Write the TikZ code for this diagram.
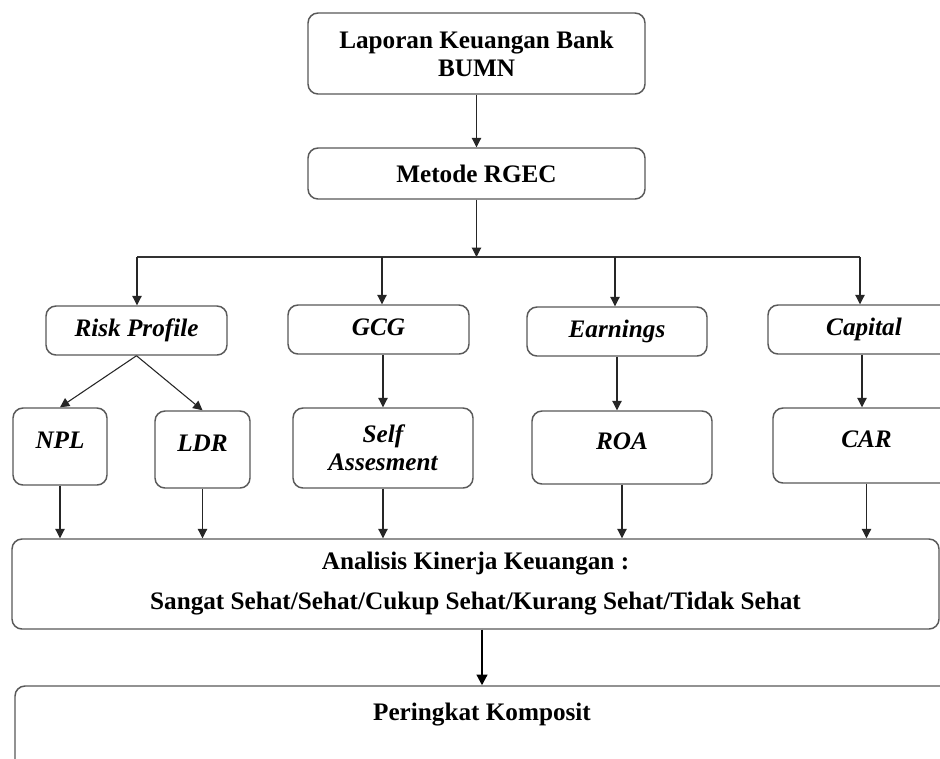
\documentclass[tikz,border=0pt]{standalone}
\usepackage{fontspec}
\setmainfont{Liberation Serif}
\usetikzlibrary{arrows.meta,calc}
\tikzset{
  box/.style={draw=black!65, line width=1.1pt, rounded corners=7.5pt, inner sep=0pt, align=center,
    font=\fontsize{18.9}{21}\selectfont\bfseries},
  ibox/.style={box, font=\fontsize{18.9}{21}\selectfont\bfseries\itshape},
  onebox/.style={ibox, text height=13pt, text depth=4pt},
  arr/.style={draw=black!85, line width=0.8pt, -{Triangle[length=7pt,width=7pt]}},
  thickarr/.style={draw=black, line width=1.6pt, -{Triangle[length=8pt,width=8pt]}},
  lbl/.style={inner sep=0pt, font=\fontsize{18.9}{21}\selectfont\bfseries}
}
\begin{document}
\begin{tikzpicture}[x=0.75pt,y=-0.75pt]
\useasboundingbox (0,0) rectangle (940,758);
\fill[white] (0,0) rectangle (940,758);
\clip (0,0) rectangle (940,758);

% top
\node[box, minimum width=252.75pt, minimum height=60.75pt] (lap) at (476.5,53.5) {Laporan Keuangan Bank\\BUMN};
\node[box, minimum width=252.75pt, minimum height=38.25pt] (rgec) at (476.5,173.5) {Metode RGEC};

% first row
\node[onebox, minimum width=135.75pt, minimum height=36.75pt] (rp) at (136.5,330.5) {Risk Profile};
\node[onebox, minimum width=135.75pt, minimum height=36.75pt] (gcg) at (378.5,329.5) {GCG};
\node[onebox, minimum width=135pt, minimum height=36.75pt] (earn) at (617,331.5) {Earnings};
\node[onebox, minimum width=144pt, minimum height=36.75pt] (cap) at (864,329.5) {Capital};

% second row
\node[ibox, minimum width=70.5pt, minimum height=57.75pt, text depth=9pt] (npl) at (60,446.5) {NPL};
\node[ibox, minimum width=71.25pt, minimum height=57.75pt, text depth=9pt] (ldr) at (202.5,449.5) {LDR};
\node[ibox, minimum width=135pt, minimum height=60pt] (self) at (383,448) {Self\\Assesment};
\node[ibox, minimum width=135pt, minimum height=54.75pt, text depth=9pt] (roa) at (622,447.5) {ROA};
\node[ibox, minimum width=140.25pt, minimum height=56.25pt, text depth=9pt] (car) at (866.5,445.5) {CAR};

% analysis
\node[box, minimum width=695.25pt, minimum height=67.5pt, font=\fontsize{18.9}{30}\selectfont\bfseries] (ana) at (475.5,584)
  {Analisis Kinerja Keuangan :\\Sangat Sehat/Sehat/Cukup Sehat/Kurang Sehat/Tidak Sehat};

% final
\node[box, minimum width=708.75pt, minimum height=78pt] (per) at (487.5,738) {};
\node[lbl] (perlabel) at (482,715) {Peringkat Komposit};

% connectors
\draw[arr] (lap.south) -- (rgec.north);
\coordinate (bus) at (479,257);
\coordinate (b1) at (137,257);
\coordinate (b2) at (382,257);
\coordinate (b3) at (615,257);
\coordinate (b4) at (860,257);
\draw[arr] (rgec.south) -- (rgec.south |- bus);
\draw[draw=black!80, line width=0.8pt] (b1) -- (b4);
\draw[arr] (b1) -- (b1 |- rp.north);
\draw[arr] (b2) -- (b2 |- gcg.north);
\draw[arr] (b3) -- (b3 |- earn.north);
\draw[arr] (b4) -- (b4 |- cap.north);

\draw[arr] (rp.south) -- (npl.north);
\draw[arr] (rp.south) -- (ldr.north);
\draw[arr] (self.north |- gcg.south) -- (self.north);
\draw[arr] (earn.south) -- (earn.south |- roa.north);
\coordinate (c1) at (862,0);
\draw[arr] (c1 |- cap.south) -- (c1 |- car.north);

\draw[arr] (npl.south) -- (npl.south |- ana.north);
\draw[arr] (ldr.south) -- (ldr.south |- ana.north);
\draw[arr] (self.south) -- (self.south |- ana.north);
\draw[arr] (roa.south) -- (roa.south |- ana.north);
\draw[arr] (car.south) -- (car.south |- ana.north);

\draw[thickarr] (perlabel.north |- ana.south) -- (perlabel.north |- per.north);
\end{tikzpicture}
\end{document}
